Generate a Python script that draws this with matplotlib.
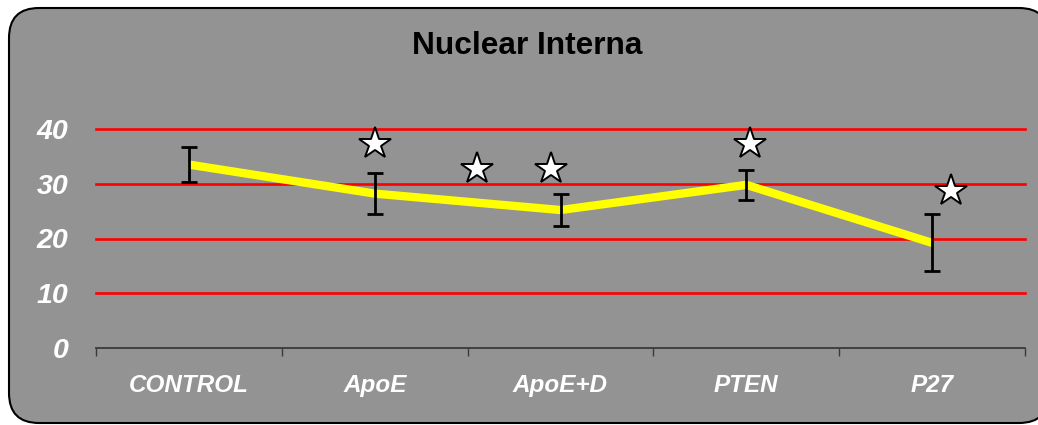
import matplotlib
matplotlib.use("Agg")
import matplotlib.pyplot as plt
from matplotlib.patches import FancyBboxPatch
import numpy as np

# Data
categories = ["CONTROL", "ApoE", "ApoE+D", "PTEN", "P27"]
means = [33.5, 28.2, 25.2, 29.8, 19.2]
errors = [3.2, 3.7, 2.9, 2.8, 5.2]
y_ticks = [0, 10, 20, 30, 40]

# Significance markers (position along category axis, height)
star_x = [1.0, 1.55, 1.95, 3.02, 4.10]
star_y = [37.3, 32.7, 32.7, 37.3, 28.6]

plt.rcParams["font.family"] = ["Liberation Sans", "DejaVu Sans"]

W, H, DPI = 10.38, 4.25, 100
fig = plt.figure(figsize=(W, H), dpi=DPI, facecolor="white")

bg = "#939393"
# Rounded chart panel behind everything
panel = FancyBboxPatch((0.09, 0.02), 10.40, 4.15,
                       boxstyle="round,pad=0,rounding_size=0.30",
                       transform=fig.dpi_scale_trans,
                       facecolor=bg, edgecolor="black", linewidth=1.5,
                       zorder=-10)
fig.patches.append(panel)

ax = fig.add_axes([96 / 1038, 77 / 425, 929 / 1038, 219 / 425])
ax.set_zorder(1)
ax.set_facecolor("none")
ax.patch.set_alpha(0)
ax.set_xlim(-0.5, len(categories) - 0.5)
ax.set_ylim(0, 40)

# Horizontal grid lines
for yv in y_ticks[1:]:
    ax.axhline(yv, color="#ff0000", linewidth=1.9, zorder=1, clip_on=False)

x = np.arange(len(categories))
ax.plot(x, means, color="#ffff00", linewidth=6, solid_capstyle="butt", zorder=3)
ax.errorbar(x, means, yerr=errors, fmt="none", ecolor="black",
            elinewidth=2.0, capsize=6, capthick=2.0, zorder=4)

ax.plot(star_x, star_y, linestyle="none", marker="*", markersize=24,
        markerfacecolor="white", markeredgecolor="black",
        markeredgewidth=1.4, zorder=5, clip_on=False)

# Axes styling
for side in ["top", "right", "left"]:
    ax.spines[side].set_visible(False)
ax.spines["bottom"].set_color("#3a3a3a")
ax.spines["bottom"].set_linewidth(1.3)

ax.set_yticks(y_ticks)
ax.set_yticklabels([str(v) for v in y_ticks], fontsize=20.5, fontweight="bold",
                   fontstyle="italic", color="white")
ax.tick_params(axis="y", length=0, pad=20)

ax.set_xticks(x)
ax.set_xticklabels(categories, fontsize=17.5, fontweight="bold",
                   fontstyle="italic", color="white")
ax.tick_params(axis="x", which="major", length=0, pad=19)
ax.set_xticks(np.arange(-0.5, len(categories), 1.0), minor=True)
ax.tick_params(axis="x", which="minor", length=6, width=1.0, color="#3a3a3a",
               direction="out")

fig.text(527 / 1038, 1 - 46 / 425, "Nuclear Interna", ha="center", va="center",
         fontsize=22.8, fontweight="bold", color="black")

fig.savefig("out.png", dpi=DPI, facecolor="white")
